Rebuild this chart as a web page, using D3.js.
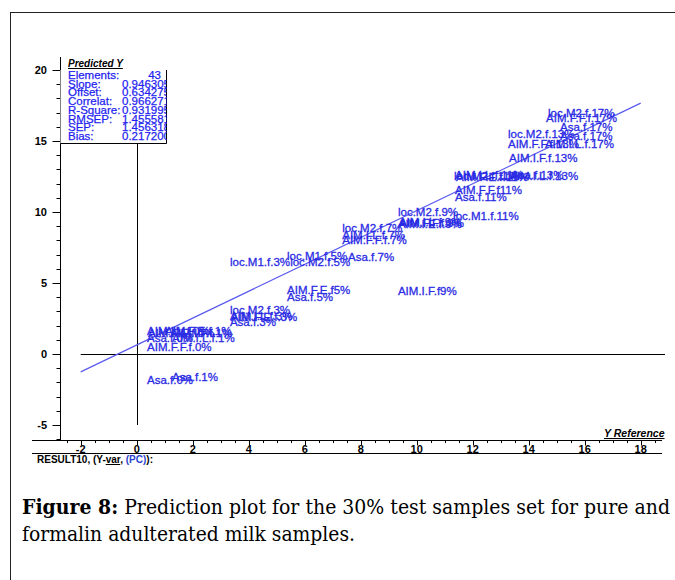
<!DOCTYPE html>
<html>
<head>
<meta charset="utf-8">
<script src="https://cdn.jsdelivr.net/npm/d3@7"></script>
<style>
  body { margin: 0; background: #fff; }
  svg { display: block; }
</style>
</head>
<body>
<div id="chart"></div>
<script>
// sample names, reference (x) and predicted (y) values
const sampleNames = [
  'loc.M2.f.17%', 'AIM.F.F.f.17%', 'Asa.f.17%', 'Asa.f.17%', 'loc.M2.f.13%',
  'AIM.F.F.f.13%', 'AIM.I.L.f.17%', 'AIM.I.F.f.13%',
  'loc.M2.f.11%', 'AIM.I.L.f.11%', 'AIM.F.E.f.11%', 'Asa.f.13%', 'AIM.I.L.f.13%',
  'AIM.F.F.f11%', 'Asa.f.11%', 'loc.M1.f.11%',
  'loc.M2.f.9%', 'AIM.I.E.f.9%', 'AIM.I.L.f.9%', 'AIM.F.F.f.9%',
  'loc.M2.f.7%', 'AIM.I.L.f.7%', 'AIM.F.F.f.7%',
  'loc.M1.f.5%', 'loc.M2.f.5%', 'loc.M1.f.3%', 'Asa.f.7%',
  'AIM.F.E.f5%', 'Asa.f.5%', 'AIM.I.F.f9%',
  'loc.M2.f.3%', 'AIM.I.L.f.3%', 'AIM.F.E.f.3%', 'Asa.f.3%',
  'AIM.I.L.f.0%', 'AIM.F.E.f.0%', 'AIM.F.E.f.1%', 'AIM.I.F.f.1%',
  'Asa.f.0%', 'AIM.I.L.f.1%', 'AIM.F.F.f.0%',
  'Asa.f.0%', 'Asa.f.1%'
]
const referenceValues = [
  14.69, 14.62, 15.12, 15.12, 13.26,
  13.26, 14.58, 13.30,
  11.33, 11.37, 11.40, 13.37, 13.30,
  11.37, 11.37, 11.30,
  9.33, 9.33, 9.36, 9.38,
  7.34, 7.34, 7.34,
  5.37, 5.48, 3.33, 7.55,
  5.37, 5.37, 9.33,
  3.33, 3.33, 3.36, 3.33,
  0.37, 0.40, 1.01, 1.20,
  0.37, 1.26, 0.37,
  0.37, 1.26
]
const predictedValues = [
  16.97, 16.62, 15.99, 15.35, 15.49,
  14.79, 14.79, 13.80,
  12.54, 12.61, 12.47, 12.61, 12.54,
  11.55, 11.06, 9.72,
  10.00, 9.15, 9.30, 9.20,
  8.87, 8.38, 8.03,
  6.90, 6.48, 6.48, 6.83,
  4.51, 4.01, 4.44,
  3.10, 2.68, 2.62, 2.25,
  1.62, 1.48, 1.62, 1.48,
  1.13, 1.13, 0.49,
  -1.83, -1.62
]

// regression summary
const statLabels = ['Elements:', 'Slope:', 'Offset:', 'Correlat:', 'R-Square:', 'RMSEP:', 'SEP:', 'Bias:']
const statValues = ['43', '0.946305', '0.634275', '0.966271', '0.931995', '1.455581', '1.456318', '0.217200']
const slope = 0.946305
const offset = 0.634275

const xTicks = [-2, 0, 2, 4, 6, 8, 10, 12, 14, 16, 18]
const yTicks = [-5, 0, 5, 10, 15, 20]

const width = 675, height = 580
const blue = '#2a2ae4'
const sans = '"Liberation Sans", Arial, sans-serif'

const svg = d3.select('#chart').append('svg')
  .attr('width', width)
  .attr('height', height)

// outer frame
svg.append('rect')
  .attr('x', 10.5).attr('y', 12.5)
  .attr('width', 700).attr('height', 600)
  .style('fill', 'none').style('stroke', '#222').style('stroke-width', 1)

const x = d3.scaleLinear().domain([-2, 18]).range([80.7, 640.7])
const y = d3.scaleLinear().domain([-5, 20]).range([425, 70])

const axisX = 60.5, axisY = 440.5

// y axis
svg.append('line')
  .attr('x1', axisX).attr('x2', axisX)
  .attr('y1', 57).attr('y2', axisY)
  .style('stroke', '#000')
svg.selectAll('.ymin')
  .data(d3.range(-6, 21))
  .enter().append('line')
  .attr('x1', d => d % 5 === 0 ? axisX - 8 : axisX - 4)
  .attr('x2', axisX)
  .attr('y1', d => Math.round(y(d)) + 0.5)
  .attr('y2', d => Math.round(y(d)) + 0.5)
  .style('stroke', '#000')
svg.selectAll('.ylab')
  .data(yTicks)
  .enter().append('text')
  .attr('x', 47)
  .attr('y', d => y(d))
  .attr('dy', '0.35em')
  .attr('text-anchor', 'end')
  .style('font-family', sans)
  .style('font-size', '11px')
  .style('font-weight', 'bold')
  .text(d => d)

// x axis
svg.append('line')
  .attr('x1', 32).attr('x2', 662)
  .attr('y1', axisY).attr('y2', axisY)
  .style('stroke', '#000')
svg.selectAll('.xmin')
  .data(d3.range(-2.5, 19, 0.5))
  .enter().append('line')
  .attr('x1', d => Math.round(x(d)) + 0.5)
  .attr('x2', d => Math.round(x(d)) + 0.5)
  .attr('y1', axisY)
  .attr('y2', d => d % 2 === 0 ? axisY + 5 : axisY + 2.5)
  .style('stroke', '#000')
svg.selectAll('.xlab')
  .data(xTicks)
  .enter().append('text')
  .attr('x', d => x(d))
  .attr('y', 453)
  .attr('text-anchor', 'middle')
  .style('font-family', sans)
  .style('font-size', '11px')
  .style('font-weight', 'bold')
  .text(d => d)

// separator under the plot
svg.append('line')
  .attr('x1', 32).attr('x2', 662)
  .attr('y1', 453.5).attr('y2', 453.5)
  .style('stroke', '#000')

const result = svg.append('text')
  .attr('x', 37).attr('y', 463)
  .style('font-family', sans)
  .style('font-size', '10px')
  .style('font-weight', 'bold')
result.append('tspan').text('RESULT10, (Y-')
result.append('tspan').text('var').style('text-decoration', 'underline wavy #d00')
result.append('tspan').text(', ')
result.append('tspan').text('(PC)').style('fill', '#2a3fd0')
result.append('tspan').text('):')

// axis titles
svg.append('text')
  .attr('x', 604).attr('y', 437)
  .style('font-family', sans)
  .style('font-size', '10.5px')
  .style('font-weight', 'bold')
  .style('font-style', 'italic')
  .style('text-decoration', 'underline')
  .text('Y Reference')

// zero reference lines
svg.append('line')
  .attr('x1', x(-2)).attr('x2', 665)
  .attr('y1', Math.round(y(0)) + 0.5).attr('y2', Math.round(y(0)) + 0.5)
  .style('stroke', '#000')
svg.append('line')
  .attr('x1', Math.round(x(0)) + 0.5).attr('x2', Math.round(x(0)) + 0.5)
  .attr('y1', 143).attr('y2', y(-5))
  .style('stroke', '#000')

// regression line
svg.append('line')
  .attr('x1', x(-2)).attr('y1', y(slope * -2 + offset))
  .attr('x2', x(18)).attr('y2', y(slope * 18 + offset))
  .style('stroke', '#5a5af0')
  .style('stroke-width', 1.2)

// sample labels
const samples = sampleNames.map((name, i) => ({ name, ref: referenceValues[i], pred: predictedValues[i] }))
svg.selectAll('.sample')
  .data(samples)
  .enter().append('text')
  .attr('class', 'sample')
  .attr('x', d => x(d.ref))
  .attr('y', d => y(d.pred))
  .attr('dy', '0.35em')
  .style('font-family', sans)
  .style('font-size', '11.5px')
  .style('fill', blue)
  .style('stroke', blue)
  .style('stroke-width', 0.3)
  .text(d => d.name)

// statistics box
const boxL = axisX, boxR = 166.5, boxT = 70, boxB = 143.5
svg.append('clipPath').attr('id', 'statclip')
  .append('rect').attr('x', boxL).attr('y', boxT - 15).attr('width', boxR - boxL).attr('height', boxB - boxT + 15)
svg.append('rect')
  .attr('x', boxL).attr('y', boxT)
  .attr('width', boxR - boxL).attr('height', boxB - boxT)
  .style('fill', '#fff')
svg.append('line')
  .attr('x1', boxR).attr('x2', boxR).attr('y1', boxT).attr('y2', boxB)
  .style('stroke', '#000')
svg.append('line')
  .attr('x1', boxL).attr('x2', boxR).attr('y1', boxB).attr('y2', boxB)
  .style('stroke', '#000')

const stats = svg.append('g').attr('clip-path', 'url(#statclip)')
stats.append('text')
  .attr('x', 68).attr('y', 67)
  .style('font-family', sans)
  .style('font-size', '10px')
  .style('font-weight', 'bold')
  .style('font-style', 'italic')
  .style('text-decoration', 'underline')
  .text('Predicted Y')
stats.selectAll('.slab')
  .data(statLabels)
  .enter().append('text')
  .attr('x', 68)
  .attr('y', (d, i) => 75 + i * 8.7)
  .attr('dy', '0.35em')
  .style('font-family', sans)
  .style('font-size', '11.5px')
  .style('fill', '#1f1ff0')
  .style('stroke', '#1f1ff0')
  .style('stroke-width', 0.25)
  .text(d => d)
stats.selectAll('.sval')
  .data(statValues)
  .enter().append('text')
  .attr('x', (d, i) => i === 0 ? 161 : 122)
  .attr('y', (d, i) => 75 + i * 8.7)
  .attr('dy', '0.35em')
  .attr('text-anchor', (d, i) => i === 0 ? 'end' : 'start')
  .style('font-family', sans)
  .style('font-size', '11.5px')
  .style('fill', '#1f1ff0')
  .style('stroke', '#1f1ff0')
  .style('stroke-width', 0.25)
  .text(d => d)

// caption
const serif = '"DejaVu Serif", "Liberation Serif", serif'
const cap1 = svg.append('text')
  .attr('x', 22).attr('y', 514)
  .attr('textLength', 648)
  .attr('lengthAdjust', 'spacingAndGlyphs')
  .style('font-family', serif)
  .style('font-size', '20px')
cap1.append('tspan').style('font-weight', 'bold').text('Figure 8:')
cap1.append('tspan').text(' Prediction plot for the 30% test samples set for pure and')
svg.append('text')
  .attr('x', 22).attr('y', 541)
  .attr('textLength', 333)
  .attr('lengthAdjust', 'spacingAndGlyphs')
  .style('font-family', serif)
  .style('font-size', '20px')
  .text('formalin adulterated milk samples.')
</script>
</body>
</html>
